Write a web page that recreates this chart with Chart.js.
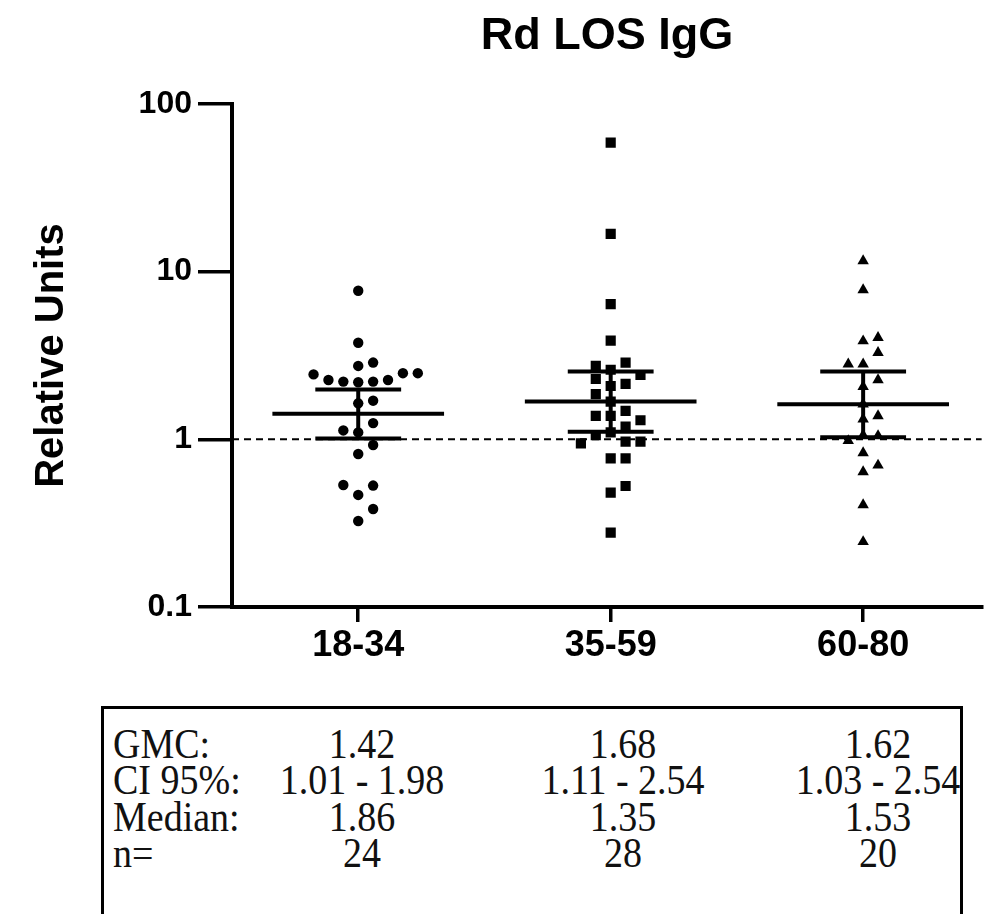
<!DOCTYPE html>
<html>
<head>
<meta charset="utf-8">
<script src="https://cdn.jsdelivr.net/npm/chart.js@4/dist/chart.umd.min.js"></script>
<style>
  html, body { margin: 0; padding: 0; background: #fff; overflow: hidden; }
  #wrap { position: relative; width: 989px; height: 914px; overflow: hidden; }
  #myChart { position: absolute; left: 0; top: 0; }
  #statsBox { position: absolute; left: 101px; top: 706px; width: 856px; height: 260px;
              border: 3px solid #000; border-bottom: none; }
  .cell { position: absolute; font-family: "Liberation Serif", "Times New Roman", serif;
          font-size: 38px; line-height: 38px; color: #111; white-space: nowrap;
          transform: scaleY(1.12); transform-origin: 0 31px; }
</style>
</head>
<body>
<div id="wrap">
  <canvas id="myChart" width="989" height="700" style="width:989px;height:700px"></canvas>
  <div id="statsBox"></div>
</div>
<script>
// age groups and the values (relative units)
const groups = ['18-34', '35-59', '60-80'];
const values1834 = [7.7, 3.77, 2.74, 2.87, 2.19, 2.21, 2.21, 2.26, 2.26, 2.48, 2.44, 2.48,
  1.64, 1.70, 1.10, 1.25, 1.13, 0.818, 0.925, 0.326, 0.384, 0.466, 0.53, 0.534];
const values3559 = [58.8, 16.8, 6.41, 3.88, 2.6, 2.87, 2.74, 2.42, 2.08, 2.14, 2.29, 1.68, 1.86,
  1.48, 1.38, 1.38, 1.30, 1.19, 1.10, 1.06, 0.97, 0.97, 0.946, 0.77, 0.77, 0.481, 0.527, 0.278];
const values6080 = [11.6, 7.78, 3.86, 4.04, 3.29, 2.81, 2.81, 2.06, 2.26, 1.62, 1.38, 1.32,
  1.06, 1.05, 0.98, 0.83, 0.70, 0.64, 0.406, 0.245];

// summary stats (also printed in the table)
const gmc = [1.42, 1.68, 1.62];
const ciLow = [1.01, 1.11, 1.03];
const ciHigh = [1.98, 2.54, 2.54];
const medians = [1.86, 1.35, 1.53];
const counts = [24, 28, 20];

const yTicks = [0.1, 1, 10, 100];
const refLevel = 1;

const sans = '"Liberation Sans", Arial, Helvetica, sans-serif';
const xMin = -0.5, xMax = 2.47;

// simple swarm: put each point in the first free column (0, +1, -1, +2 ...)
const slotOrder = [0, 1, -1, 2, -2, 3, -3, 4, -4, 5, -5];
const minGap = 0.076;   // in decades
const slotWidth = 0.059;
function swarm(vals, centre) {
  const placed = [];
  return vals.map(v => {
    const lv = Math.log10(v);
    const slot = slotOrder.find(s => !placed.some(p => p.s === s && Math.abs(p.l - lv) < minGap));
    placed.push({ s: slot, l: lv });
    return { x: centre + slot * slotWidth, y: v };
  });
}

// mean line + 95% CI bars, one line dataset with gaps
function errorBarPoints() {
  const pts = [];
  gmc.forEach((m, i) => {
    pts.push({ x: i - 0.34, y: m }, { x: i + 0.34, y: m }, { x: i, y: null });
    pts.push({ x: i - 0.17, y: ciHigh[i] }, { x: i + 0.17, y: ciHigh[i] }, { x: i, y: null });
    pts.push({ x: i - 0.17, y: ciLow[i] }, { x: i + 0.17, y: ciLow[i] }, { x: i, y: null });
    pts.push({ x: i, y: ciLow[i] }, { x: i, y: ciHigh[i] }, { x: i, y: null });
  });
  return pts;
}

Chart.defaults.font.family = sans;
Chart.defaults.color = '#000';

const ctx = document.getElementById('myChart').getContext('2d');
new Chart(ctx, {
  type: 'scatter',
  data: {
    datasets: [
      { type: 'line', data: errorBarPoints(), showLine: true, spanGaps: false, borderColor: '#000',
        borderWidth: 4, borderCapStyle: 'butt', pointRadius: 0, order: 0 },
      { data: swarm(values1834, 0), pointStyle: 'circle', pointRadius: 5.2, backgroundColor: '#000',
        borderWidth: 0, order: 1 },
      { data: swarm(values3559, 1), pointStyle: 'rect', pointRadius: 7.2, backgroundColor: '#000',
        borderWidth: 0, order: 1 },
      { data: swarm(values6080, 2), pointStyle: 'triangle', pointRadius: 6.6, backgroundColor: '#000',
        borderWidth: 0, order: 1 },
      { type: 'line', data: [{ x: xMin, y: refLevel }, { x: xMax, y: refLevel }], borderColor: '#000',
        borderWidth: 2, borderDash: [7, 5], pointRadius: 0, order: 2 }
    ]
  },
  options: {
    responsive: false,
    animation: false,
    layout: { padding: 0 },
    plugins: {
      legend: { display: false },
      tooltip: { enabled: false },
      title: { display: true, text: 'Rd LOS IgG', fullSize: false, color: '#000',
               font: { size: 45, weight: 'bold' }, padding: { top: 10, bottom: 40 } }
    },
    scales: {
      x: {
        type: 'linear', min: xMin, max: xMax,
        border: { display: true, color: '#000', width: 4 },
        grid: { drawOnChartArea: false, drawTicks: true, tickLength: 15, color: '#000', lineWidth: 3.5 },
        ticks: { autoSkip: false, maxRotation: 0, minRotation: 0, padding: 2, color: '#000',
                 font: { size: 36, weight: 'bold' }, callback: v => groups[v] },
        afterBuildTicks: s => { s.ticks = groups.map((g, i) => ({ value: i })); },
        afterFit: s => { s.height = 93; }
      },
      y: {
        type: 'logarithmic', min: 0.1, max: 100,
        border: { display: true, color: '#000', width: 4 },
        grid: { drawOnChartArea: false, drawTicks: true, tickLength: 34, color: '#000', lineWidth: 3.5 },
        ticks: { padding: 6, color: '#000', font: { size: 32, weight: 'bold' }, callback: v => String(v) },
        afterBuildTicks: s => { s.ticks = yTicks.map(v => ({ value: v, major: true })); },
        afterFit: s => { s.width = 232; },
        title: { display: true, text: 'Relative Units', color: '#000',
                 font: { size: 40, weight: 'bold' }, padding: { top: 28, bottom: 0 } }
      }
    }
  }
});

// stats table under the chart
const rowLabels = ['GMC:', 'CI 95%:', 'Median:', 'n='];
const rowText = [
  gmc.map(v => v.toFixed(2)),
  ciLow.map((lo, i) => lo.toFixed(2) + ' - ' + ciHigh[i].toFixed(2)),
  medians.map(v => v.toFixed(2)),
  counts.map(String)
];
const colCentres = [362, 623, 878];
const rowTops = [726, 762, 799, 835];
const wrap = document.getElementById('wrap');
function addCell(text, left, top, width, align) {
  const d = document.createElement('div');
  d.className = 'cell';
  d.textContent = text;
  d.style.left = left + 'px';
  d.style.top = top + 'px';
  if (width) { d.style.width = width + 'px'; d.style.textAlign = align; }
  wrap.appendChild(d);
}
rowLabels.forEach((lab, r) => {
  addCell(lab, 113, rowTops[r]);
  rowText[r].forEach((t, c) => addCell(t, colCentres[c] - 150, rowTops[r], 300, 'center'));
});
</script>
</body>
</html>
